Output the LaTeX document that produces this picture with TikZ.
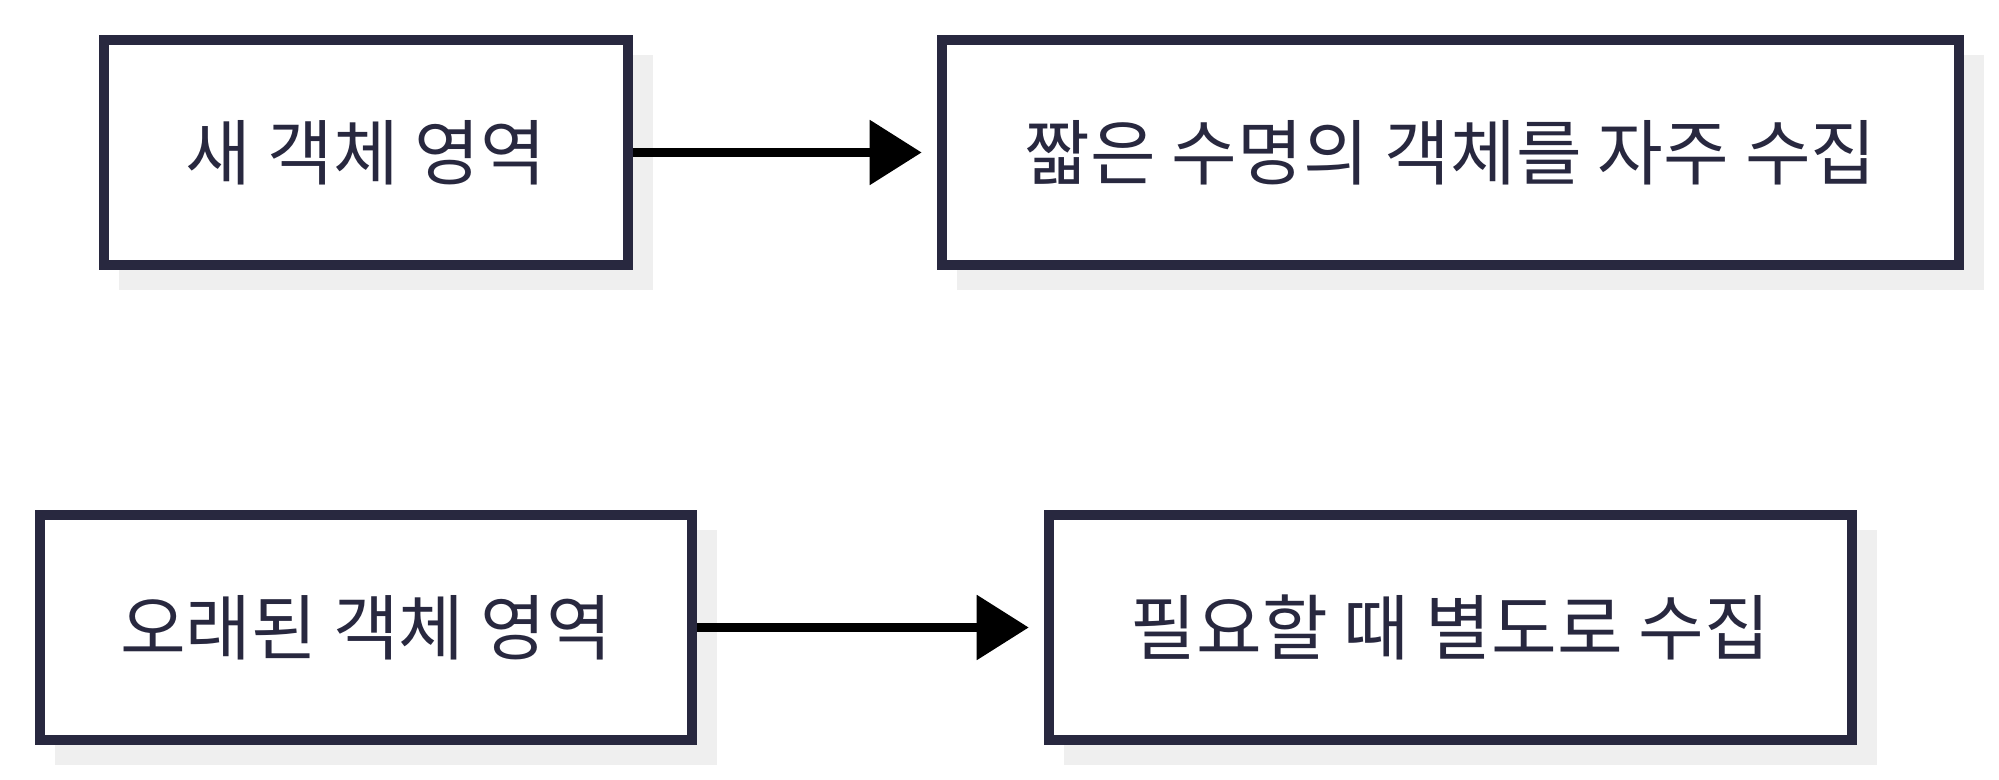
\documentclass[tikz,border=0pt]{standalone}
\usepackage{fontspec}
\setmainfont{Noto Sans CJK KR}
\usetikzlibrary{arrows.meta,calc,backgrounds}
\definecolor{boxline}{HTML}{28283F}
\definecolor{shadowc}{HTML}{EFEFEF}
\tikzset{
  box/.style={draw=boxline, line width=0.1cm, fill=white, rectangle, inner sep=0pt,
    minimum height=2.25cm, text=boxline, font=\fontsize{20.3pt}{24pt}\selectfont},
  flow/.style={draw=black, line width=0.09cm, -{Triangle[length=0.52cm,width=0.63cm]}, shorten >=0.15cm},
  shade/.style={fill=shadowc}
}
\newcommand{\lift}[1]{\raisebox{0.03cm}{#1}}
\begin{document}
\begin{tikzpicture}[x=0.01cm,y=-0.01cm]
\useasboundingbox (0,0) rectangle (1999,780);
\node[box, minimum width=5.24cm] (b1) at (366,152.5) {\lift{새 객체 영역}};
\node[box, minimum width=10.17cm] (b2) at (1450.5,152.5) {\lift{짧은 수명의 객체를 자주 수집}};
\node[box, minimum width=6.52cm] (b3) at (366,627.5) {\lift{오래된 객체 영역}};
\node[box, minimum width=8.03cm] (b4) at (1450.5,627.5) {\lift{필요할 때 별도로 수집}};
\begin{scope}[on background layer]
\foreach \n in {b1,b2,b3,b4}
  \fill[shade] ($(\n.north west)+(20,20)$) rectangle ($(\n.south east)+(20,20)$);
\end{scope}
\draw[flow] (b1.east) -- (b2.west);
\draw[flow] (b3.east) -- (b4.west);
\end{tikzpicture}
\end{document}
